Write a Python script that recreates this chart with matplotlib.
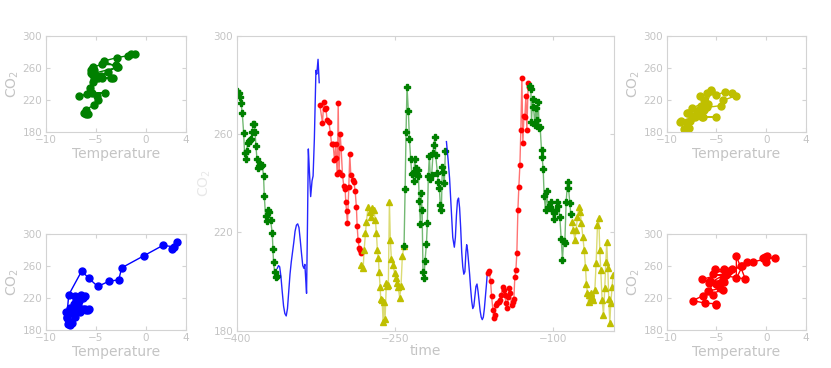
import numpy as np
import matplotlib
matplotlib.use("Agg")
import matplotlib.pyplot as plt

plt.rcParams['font.family'] = ['DejaVu Sans']

GREY = '#c4c4c4'
SPINE = '#d3d3d3'

# --- main time series, one regime per segment ---
t_green1 = [-400.0, -398.1, -396.9, -395.9, -394.7, -393.4, -392.5, -391.5, -390.6, -389.6,
            -388.3, -387.1, -386.1, -385.2, -384.5, -383.3, -382.6, -381.7, -380.8, -379.8,
            -378.6, -377.6, -376.6, -375.7, -374.5, -373.8, -372.6, -371.3, -370.7, -369.4,
            -367.8, -366.2, -365.6, -365.0, -364.0, -362.8, -361.8]
co2_green1 = [277.7, 276.9, 275.3, 272.8, 268.6, 260.7, 252.5, 250.0, 253.0, 256.3,
              257.1, 257.6, 258.2, 261.0, 264.3, 264.0, 261.0, 255.2, 250.1, 246.2,
              247.0, 247.8, 247.0, 247.4, 242.9, 234.9, 226.8, 224.6, 229.1, 228.4,
              225.0, 219.6, 213.1, 207.8, 203.9, 201.7, 202.2]
temp_green1 = [-1.1, -1.5, -1.8, -2.9, -4.2, -2.8, -5.4, -4.9, -5.5, -5.4,
               -5.5, -5.2, -5.4, -5.3, -4.4, -3.0, -2.9, -3.8, -4.5, -5.2,
               -3.3, -3.5, -4.4, -4.8, -5.3, -5.6, -5.9, -6.7, -4.1, -5.4,
               -4.9, -4.8, -5.2, -6.0, -6.2, -6.0, -5.8]

t_blue1 = [-361.5, -360.3, -359.2, -358.0, -356.8, -355.5, -354.3, -353.0, -351.8, -350.6,
           -349.4, -348.2, -347.0, -345.8, -344.6, -343.3, -342.1, -340.9, -339.7, -338.5,
           -337.3, -336.2, -335.3, -334.5, -333.7, -332.8, -332.0, -331.0, -329.8, -328.5,
           -327.5, -326.3, -325.5, -324.8, -324.0, -322.8, -321.7]
co2_blue1 = [205.4, 206.5, 206.0, 202.0, 196.0, 190.0, 187.0, 186.0, 189.0, 196.0,
             203.0, 208.0, 212.0, 216.0, 220.5, 223.0, 223.5, 222.0, 217.0, 211.5,
             206.5, 205.4, 207.0, 201.0, 195.2, 224.0, 254.0, 245.0, 234.6, 241.0,
             243.0, 258.0, 273.0, 286.0, 284.5, 290.5, 281.0]
temp_blue1 = [-6.0, -5.7, -6.1, -6.6, -7.1, -7.6, -7.8, -7.6, -7.4, -7.9,
              -8.0, -7.6, -7.2, -6.7, -6.3, -6.1, -6.5, -7.1, -7.0, -6.8,
              -6.3, -5.8, -6.9, -7.3, -7.9, -7.7, -6.4, -5.7, -4.8, -3.7,
              -2.7, -2.4, -0.2, 1.7, 2.8, 3.1, 2.6]

t_red1 = [-321.1, -318.6, -317.3, -316.4, -315.4, -314.2, -312.6, -311.0, -310.0, -308.5,
          -307.2, -305.9, -305.3, -304.4, -303.7, -302.8, -301.8, -300.9, -299.6, -298.4,
          -297.1, -296.5, -295.8, -294.9, -293.6, -292.7, -291.7, -290.1, -288.9, -287.6,
          -286.4, -285.7, -284.8, -283.8, -282.6, -281.6]
co2_red1 = [271.9, 264.7, 273.2, 270.1, 270.8, 265.8, 265.1, 260.4, 256.0, 256.0,
            249.5, 256.0, 250.2, 244.0, 272.6, 244.7, 260.1, 254.2, 243.4, 238.9,
            237.7, 232.5, 228.7, 223.7, 238.6, 251.8, 243.4, 241.4, 240.7, 237.0,
            230.2, 222.6, 216.9, 213.8, 212.8, 211.8]
temp_red1 = [-0.1, -0.0, 0.1, -0.3, 0.9, -1.3, -1.9, -2.5, -3.4, -5.1,
             -4.0, -4.2, -5.3, -2.1, -3.0, -3.0, -2.4, -3.7, -4.3, -4.6,
             -5.0, -4.6, -5.8, -5.3, -5.7, -3.9, -6.5, -5.6, -4.2, -4.8,
             -4.3, -6.4, -7.4, -6.2, -5.0, -5.0]

t_yellow1 = [-281.6, -280.0, -279.1, -277.8, -276.9, -275.3, -273.7, -272.8, -271.2, -269.9,
             -268.4, -267.4, -266.5, -265.5, -264.9, -263.9, -263.3, -262.0, -261.1, -260.2,
             -259.2, -258.0, -257.0, -256.1, -255.1, -254.2, -253.2, -251.6, -250.1, -249.1,
             -247.9, -246.9, -245.3, -244.1, -242.8, -241.2]
co2_yellow1 = [206.7, 205.4, 212.8, 219.6, 224.4, 230.5, 228.5, 226.4, 229.8, 229.1,
               225.1, 219.6, 212.8, 209.5, 204.0, 197.9, 192.8, 192.5, 183.7, 191.8,
               184.6, 199.3, 198.2, 198.6, 232.5, 216.9, 209.1, 206.7, 203.3, 201.3,
               199.3, 197.9, 193.4, 198.0, 210.5, 214.6]
temp_yellow1 = [-6.3, -7.0, -6.6, -6.3, -6.7, -5.5, -6.0, -5.0, -4.1, -3.4,
                -3.0, -4.3, -4.5, -6.6, -8.0, -7.2, -8.6, -8.0, -8.3, -8.7,
                -7.8, -7.5, -5.0, -6.4, -5.5, -6.2, -7.5, -6.8, -7.9, -6.9,
                -7.1, -7.4, -7.7, -6.5, -6.0, -5.8]

t_green2 = [-241.2, -240.2, -239.3, -238.4, -237.1, -236.1, -234.9, -233.9, -233.0, -232.0,
            -231.1, -230.1, -229.2, -228.3, -227.6, -226.7, -225.7, -225.1, -224.1, -223.2,
            -222.3, -221.3, -220.0, -219.1, -218.2, -217.2, -216.2, -215.0, -213.7, -213.1,
            -211.8, -211.2, -209.6, -208.7, -207.7, -206.8, -205.8, -204.9, -203.9, -203.0,
            -202.0]
co2_green2 = [214.6, 237.5, 261.0, 279.3, 269.4, 258.0, 249.9, 244.0, 244.3, 241.0,
              249.9, 246.1, 243.8, 245.4, 243.1, 232.9, 223.3, 235.9, 229.1, 204.0,
              201.3, 208.5, 215.1, 223.7, 243.1, 251.2, 241.7, 243.4, 252.2, 255.6,
              258.7, 251.5, 244.4, 240.4, 237.9, 231.1, 229.1, 246.5, 244.7, 240.0,
              253.3]

t_blue2 = [-201.0, -199.5, -198.0, -196.5, -195.0, -193.5, -192.5, -191.5, -190.5, -189.5,
           -188.5, -187.5, -186.5, -185.5, -184.5, -183.5, -182.5, -181.8, -181.0, -180.0,
           -179.0, -178.0, -177.0, -176.0, -175.0, -174.0, -173.0, -172.0, -171.0, -170.0,
           -169.0, -168.0, -167.0, -166.0, -165.0, -164.0, -163.0, -162.3]
co2_blue2 = [257.0, 250.0, 242.0, 230.0, 218.0, 214.0, 218.0, 227.0, 233.0, 234.0,
             230.0, 222.0, 212.0, 206.0, 203.0, 204.0, 212.0, 215.0, 213.0, 208.0,
             203.0, 197.0, 192.0, 189.0, 190.0, 194.0, 198.0, 199.0, 196.0, 192.0,
             188.0, 185.5, 184.5, 185.5, 189.0, 194.0, 199.0, 203.0]

t_red2 = [-161.9, -160.7, -159.1, -158.2, -156.9, -155.9, -155.0, -154.1, -152.8, -151.5,
          -150.3, -149.0, -147.7, -146.5, -145.5, -144.6, -143.3, -142.4, -141.4, -140.5,
          -139.2, -138.3, -137.0, -136.1, -135.1, -134.2, -133.2, -132.3, -131.3, -130.4,
          -129.4, -128.5, -127.5, -126.6, -125.6, -124.7, -123.4, -122.5]
co2_red2 = [203.3, 204.4, 200.3, 194.2, 188.4, 185.0, 186.4, 190.4, 191.4, 191.8,
            192.5, 194.5, 197.9, 196.5, 194.5, 191.1, 189.1, 193.8, 197.2, 195.2,
            190.4, 191.8, 193.1, 202.0, 204.7, 211.5, 229.1, 238.6, 247.4, 261.7,
            282.7, 256.3, 267.4, 267.1, 275.5, 261.9, 280.7, 279.3]

t_green3 = [-121.8, -120.9, -120.3, -119.3, -118.4, -117.1, -116.2, -115.2, -113.9, -113.0,
            -112.1, -110.8, -110.2, -109.2, -108.3, -107.0, -106.0, -104.8, -103.2, -102.2,
            -100.7, -99.4, -98.5, -97.2, -95.9, -94.7, -93.4, -92.1, -90.9, -89.9,
            -88.7, -87.4, -86.1, -85.2, -83.9, -83.0]
co2_green3 = [279.6, 278.6, 265.1, 274.2, 271.2, 263.7, 270.5, 265.8, 273.2, 262.4,
              263.0, 253.5, 250.6, 245.7, 234.9, 229.1, 237.0, 230.5, 230.5, 232.5,
              229.1, 225.3, 228.0, 229.1, 232.5, 230.7, 226.1, 217.2, 208.8, 216.6,
              215.8, 232.5, 240.6, 238.3, 231.8, 227.5]

t_yellow3 = [-81.7, -80.5, -79.2, -77.9, -76.7, -75.4, -74.1, -72.9, -71.6, -70.3,
             -69.1, -68.2, -67.2, -66.2, -65.3, -64.0, -62.8, -61.5, -60.2, -59.0,
             -57.7, -56.5, -55.5, -54.6, -53.3, -52.0, -50.8, -49.8, -48.9, -47.9,
             -47.0, -46.0, -45.1, -43.8, -42.9]
co2_yellow3 = [224.4, 220.9, 216.9, 221.2, 226.4, 230.5, 228.4, 223.7, 218.3, 212.8,
               206.0, 199.2, 195.2, 191.8, 194.5, 195.2, 193.8, 192.5, 196.5, 207.4,
               223.0, 225.7, 212.8, 204.7, 192.5, 186.4, 197.2, 208.1, 216.2, 205.4,
               193.1, 183.0, 191.1, 197.9, 202.6]

segments = [
    (t_green1, co2_green1, 'green'),
    (t_blue1, co2_blue1, 'blue'),
    (t_red1, co2_red1, 'red'),
    (t_yellow1, co2_yellow1, 'yellow'),
    (t_green2, co2_green2, 'green'),
    (t_blue2, co2_blue2, 'blue'),
    (t_red2, co2_red2, 'red'),
    (t_green3, co2_green3, 'green'),
    (t_yellow3, co2_yellow3, 'yellow'),
]

colors = {'green': '#008000', 'blue': '#0000ff', 'red': '#ff0000', 'yellow': '#bfbf00'}
markers = {'green': 'P', 'blue': None, 'red': 'o', 'yellow': '^'}
msizes = {'green': 4.5, 'blue': 0, 'red': 3.2, 'yellow': 4.5}


def style(ax):
    for s in ax.spines.values():
        s.set_color(SPINE)
    ax.tick_params(direction='in', colors=SPINE, labelcolor=GREY, labelsize=7.5,
                   top=True, right=True, length=3, pad=2.5)


fig = plt.figure(figsize=(8.31, 3.68), dpi=100)

# main panel
ax = fig.add_axes([0.2848, 0.1014, 0.4541, 0.8008])
for t, c, name in segments:
    col = colors[name]
    if markers[name] is None:
        ax.plot(t, c, color=col, lw=1.0, alpha=0.85)
    else:
        ax.plot(t, c, color=col, lw=1.0, alpha=0.55)
        ax.plot(t, c, ls='none', marker=markers[name], ms=msizes[name], color=col,
                mec=col)
ax.set_xlim(-400, -42)
ax.set_ylim(180, 300)
ax.set_xticks([-400, -250, -100])
ax.set_yticks([180, 220, 260, 300])
ax.set_xlabel('time', color=GREY, fontsize=10, labelpad=0)
ax.set_ylabel('CO$_2$', color='#e8e8e8', fontsize=10, labelpad=0)
style(ax)

# scatter panels
panels = [
    ([0.055, 0.6421, 0.1685, 0.2601], temp_green1, co2_green1, 'green'),
    ([0.055, 0.1033, 0.1685, 0.2600], temp_blue1, co2_blue1, 'blue'),
    ([0.8023, 0.6421, 0.1676, 0.2601], temp_yellow1, co2_yellow1, 'yellow'),
    ([0.8023, 0.1033, 0.1676, 0.2600], temp_red1, co2_red1, 'red'),
]
for rect, tx, cy, name in panels:
    a = fig.add_axes(rect)
    col = colors[name]
    a.plot(tx, cy, color=col, lw=1.0, marker='o', ms=5, mec=col)
    a.set_xlim(-10, 4)
    a.set_ylim(180, 300)
    a.set_xticks([-10, -5, 0, 4])
    a.set_yticks([180, 220, 260, 300])
    a.set_xlabel('Temperature', color=GREY, fontsize=10, labelpad=1)
    a.set_ylabel('CO$_2$', color=GREY, fontsize=10, labelpad=1)
    style(a)

fig.savefig('out.png', dpi=100)
